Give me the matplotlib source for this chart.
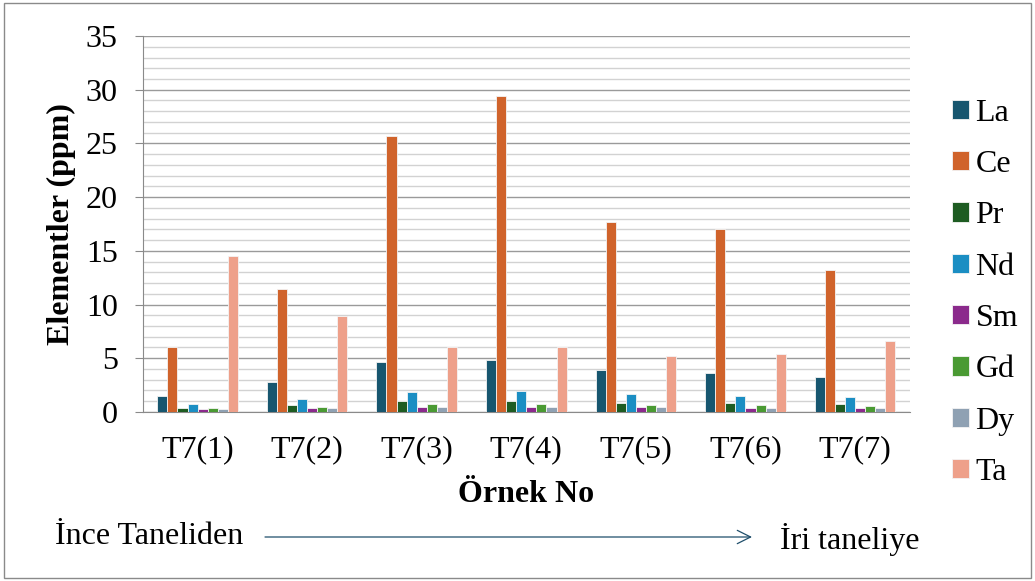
import numpy as np
import matplotlib.pyplot as plt
from matplotlib.patches import Rectangle

samples = ["T7(1)", "T7(2)", "T7(3)", "T7(4)", "T7(5)", "T7(6)", "T7(7)"]
elements = ["La", "Ce", "Pr", "Nd", "Sm", "Gd", "Dy", "Ta"]

La = [1.52, 2.82, 4.66, 4.81, 3.91, 3.63, 3.29]
Ce = [6.05, 11.4, 25.7, 29.4, 17.7, 17.0, 13.2]
Pr = [0.40, 0.68, 1.02, 1.05, 0.87, 0.84, 0.74]
Nd = [0.74, 1.24, 1.89, 1.98, 1.68, 1.52, 1.40]
Sm = [0.25, 0.34, 0.47, 0.47, 0.43, 0.37, 0.37]
Gd = [0.37, 0.47, 0.74, 0.78, 0.65, 0.65, 0.56]
Dy = [0.30, 0.40, 0.50, 0.50, 0.47, 0.40, 0.40]
Ta = [14.5, 8.9, 6.0, 6.0, 5.24, 5.43, 6.6]

series = [La, Ce, Pr, Nd, Sm, Gd, Dy, Ta]
colors = ["#17566f", "#d0632b", "#1e5c22", "#1b8ec3",
          "#8b2a8c", "#4a9a33", "#8fa1b3", "#eea08a"]

plt.rcParams["font.family"] = ["Liberation Serif", "DejaVu Serif"]
fs = 23

fig = plt.figure(figsize=(10.35, 5.81), dpi=100)
ax = fig.add_axes([0.138, 0.291, 0.741, 0.647])

x = np.arange(len(samples))
w = 0.092
for i, (vals, c, name) in enumerate(zip(series, colors, elements)):
    ax.bar(x + (i - 3.5) * w, vals, width=w, color=c, edgecolor="#f4f4f4",
           linewidth=0.6, label=name, zorder=3)

ax.set_xlim(-0.5, len(samples) - 0.5)
ax.set_ylim(0, 35)
ax.set_yticks(np.arange(0, 36, 5))
ax.set_yticks(np.arange(0, 36, 1), minor=True)
ax.grid(axis="y", which="major", color="#9a9a9a", linewidth=1.0, zorder=0)
ax.grid(axis="y", which="minor", color="#d2d2d2", linewidth=1.0, zorder=0)
ax.set_xticks(x)
ax.set_xticklabels(samples)
ax.tick_params(axis="y", which="major", labelsize=fs, length=6,
               color="#8a8a8a", pad=12)
ax.tick_params(axis="y", which="minor", length=0)
ax.tick_params(axis="x", labelsize=fs, length=0, pad=17)

for s in ["top", "right"]:
    ax.spines[s].set_visible(False)
ax.spines["left"].set_color("#8a8a8a")
ax.spines["bottom"].set_color("#8a8a8a")

ax.set_ylabel("Elementler (ppm)", fontsize=fs, fontweight="bold", labelpad=7)
ax.set_xlabel("Örnek No", fontsize=fs, fontweight="bold", labelpad=11)

ax.legend(loc="center left", bbox_to_anchor=(0.8916, 0.496),
          bbox_transform=fig.transFigure, frameon=False,
          fontsize=fs, handlelength=0.55, handleheight=0.55,
          handletextpad=0.2, labelspacing=0.70, borderpad=0.4)

fig.text(55 / 1035, 1 - 537 / 581, "İnce Taneliden", fontsize=fs,
         va="center", ha="left")
fig.text(780 / 1035, 1 - 540 / 581, "İri taneliye", fontsize=fs,
         va="center", ha="left")
fig.add_artist(plt.Annotation("", xy=(752 / 1035, 1 - 537 / 581),
                              xytext=(265 / 1035, 1 - 537 / 581),
                              xycoords="figure fraction",
                              arrowprops=dict(arrowstyle="->", color="#1f4e6b",
                                              linewidth=0.9, shrinkA=0, shrinkB=0,
                                              mutation_scale=24)))

fig.add_artist(Rectangle((0.004, 0.006), 0.992, 0.988, transform=fig.transFigure,
                         fill=False, edgecolor="#8a8a8a", linewidth=1.0))

plt.savefig("out.png", dpi=100)
